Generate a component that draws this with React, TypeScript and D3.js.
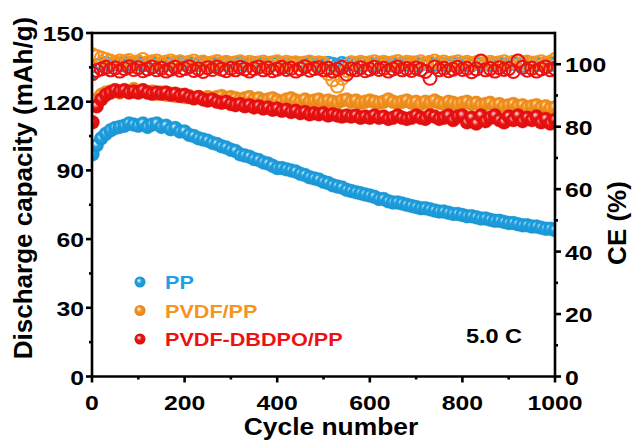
import React from "react";
import * as d3 from "d3";

// discharge capacity (mAh/g), one value every 10 cycles (first point = cycle 1)
const ppCap = [97, 101, 104, 106, 107.5, 108.5, 109, 109.5, 110.5, 110,
  109.5, 110.5, 109, 110, 110.5, 109, 109.5, 108, 108.5, 107,
  107, 105.5, 105, 104, 103.5, 103, 102, 101.5, 100.5, 100,
  99, 98.5, 97, 96.5, 96, 95, 94.5, 93.5, 93, 92,
  91, 91, 90.5, 90, 89.5, 88.5, 88, 87, 86.5, 86,
  85, 84.5, 83.5, 83, 82.5, 81.5, 81, 80.5, 80, 79.5,
  79, 78.5, 77.5, 77.5, 76.5, 76, 76, 75.5, 75, 74.5,
  74, 73.5, 73.5, 73, 72.5, 72, 72, 71.5, 71, 71,
  70.5, 70, 70, 69.5, 69, 69, 68.5, 68, 68, 67.5,
  67, 67, 66.5, 66, 66, 65.5, 65.5, 65, 64.5, 64.5, 64];

const pvdfCap = [119, 121, 123, 124, 124.5, 125, 124, 125, 124.5, 125.5,
  124, 125, 124, 124.5, 123.5, 124, 123, 123.5, 122.5, 123,
  122, 122.5, 121.5, 122, 121.5, 122, 121.5, 122, 122.5, 121.5,
  122, 121.5, 121, 121.5, 122, 121, 121.5, 120.5, 121, 121.5,
  120.5, 120, 121, 121.5, 120.5, 120, 121, 120, 120.5, 121,
  120, 120.5, 120, 119.5, 120.5, 121, 120, 120.5, 119.5, 120,
  120.5, 120, 119.5, 120, 121, 120, 119.5, 120, 120.5, 119.5,
  120, 119, 120, 119.5, 120.5, 119.5, 119, 120, 119.5, 119,
  119.5, 120, 119, 119.5, 118.5, 119, 119.5, 118.5, 119, 118,
  118.5, 119, 118, 118.5, 117.5, 118, 118.5, 117.5, 118, 117, 117.5];

const dbdpoCap = [111, 118, 121, 123, 124, 125, 124.5, 125, 124, 124.5,
  124, 125, 124, 123.5, 124, 123.5, 124, 123, 123.5, 122.5,
  123, 122, 121.5, 122, 121, 120.5, 121, 120, 119.5, 120,
  119, 118.5, 119, 118, 118.5, 117.5, 118, 117, 117.5, 116.5,
  117, 116, 116.5, 115.5, 116, 115, 115.5, 114.5, 115, 114.5,
  115, 114, 114.5, 114, 113.5, 114, 113.5, 114, 113, 113.5,
  113, 114, 113, 113.5, 112.5, 113, 114, 113, 112.5, 113,
  114, 113, 112.5, 114, 113.5, 112.5, 113, 114, 112, 113.5,
  114, 111, 113, 110.5, 114, 111.5, 113, 114, 112, 111,
  113.5, 112, 114, 111.5, 113, 112, 113.5, 111, 112.5, 110.5, 112];

// coulombic efficiency (%)
const ppCE = [97.5, 99.5, 100, 100.3, 99.8, 100.2, 100, 99.7, 100.4, 100,
  100.2, 99.8, 100, 100.5, 100, 99.7, 100.2, 100, 99.9, 100.3,
  100, 100.2, 99.8, 100, 100.4, 100, 99.7, 100.1, 100, 100.3,
  99.8, 100, 100.2, 100, 99.6, 100.3, 100, 100.1, 99.8, 100,
  100.2, 100, 99.7, 100.3, 100, 100.1, 99.9, 100.2, 100, 99.8,
  100, 100.3, 100, 99.7, 100.2, 100, 100.4, 99.9, 100, 100.2,
  100, 99.8, 100.3, 100, 100.1, 99.7, 100, 100.2, 100, 100.4,
  99.8, 100, 100.2, 100, 99.9, 100.3, 100, 99.7, 100.1, 100,
  100.2, 100, 99.8, 100.3, 100, 100.1, 99.9, 100.2, 100, 99.8,
  100, 100.3, 100, 99.7, 100.2, 100, 100.1, 99.9, 100.2, 100, 100];

const pvdfCE = [103, 102.5, 102, 101.5, 101, 100.5, 101, 100.8, 101.2, 100.5,
  100.8, 101.5, 100.5, 100.8, 101, 100.3, 100.7, 101, 100.5, 100.8,
  100.3, 100.6, 101, 100.4, 100.7, 100.2, 100.5, 100.9, 100.3, 100.6,
  100.2, 100.5, 100.8, 100.3, 100.6, 100.1, 100.4, 100.7, 100.2, 100.5,
  100.8, 100.3, 100.6, 100.2, 100.5, 100.1, 100.4, 100.7, 100.3, 100.5,
  100.2, 97, 95, 93, 95.5, 98, 100.5, 100.3, 100.6, 100.2,
  100.5, 100.8, 100.3, 100.6, 100.2, 100.5, 100.9, 100.3, 100.6, 100.2,
  100.5, 100.8, 100.3, 100.6, 101, 100.4, 100.7, 100.2, 100.5, 100.8,
  100.3, 100.6, 100.2, 100.5, 100.9, 100.3, 100.6, 100.2, 100.5, 100.8,
  100.3, 100.6, 101, 100.4, 100.7, 100.2, 100.5, 100.8, 100.3, 100.6, 101.5];

const dbdpoCE = [97, 98, 98.5, 99, 98.2, 98.8, 97.8, 98.6, 99.2, 98.3,
  98.9, 97.9, 98.5, 99.1, 98.2, 98.7, 97.8, 98.4, 99, 98.1,
  98.6, 99.2, 98, 98.5, 97.7, 98.9, 98.3, 99.1, 98.4, 97.9,
  98.7, 98.2, 99, 98.5, 97.8, 98.6, 99.1, 98.2, 98.8, 97.9,
  98.4, 99, 98.3, 98.7, 97.8, 98.5, 99.2, 98.1, 98.6, 98.9,
  98.2, 98.7, 97.8, 98.4, 99, 96.8, 98.5, 98.2, 98.9, 97.9,
  98.4, 99, 98.3, 98.7, 97.8, 98.5, 99.1, 98.2, 98.6, 98,
  98.8, 98.3, 97.7, 95.5, 99.1, 98.2, 98.7, 97.9, 98.4, 99,
  98.3, 98.7, 97.6, 98.5, 101, 98.2, 98.6, 97.8, 98.9, 98.3,
  98.6, 97.7, 101, 99, 98.1, 98.7, 97.8, 98.5, 99.1, 98.2, 98.6];

const seriesNames = ["PP", "PVDF/PP", "PVDF-DBDPO/PP"];
const seriesColors = ["#1EA0E2", "#F7931E", "#EE1111"];
const capTicks = [0, 30, 60, 90, 120, 150];
const ceTicks = [0, 20, 40, 60, 80, 100];
const cycleTicks = [0, 200, 400, 600, 800, 1000];

const W = 635;
const H = 441;
const left = 92;
const right = 555;
const top = 33;
const bottom = 376.5;
const FONT = "'Liberation Sans', Arial, Helvetica, sans-serif";

const x = d3.scaleLinear().domain([0, 1000]).range([left, right]);
const yCap = d3.scaleLinear().domain([0, 150]).range([bottom, top]);
const yCE = d3.scaleLinear().domain([0, 110]).range([bottom, top]);

const cycleOf = (i: number) => (i === 0 ? 1 : i * 10);

function SText(props: { x: number; y: number; size: number; sx?: number; anchor?: string; fill?: string; children: React.ReactNode }) {
  const sx = props.sx ?? 1.18;
  return (
    <text
      transform={`translate(${props.x},${props.y}) scale(${sx},1)`}
      textAnchor={props.anchor ?? "middle"}
      fontSize={props.size}
      fontWeight="bold"
      fontFamily={FONT}
      fill={props.fill ?? "#000"}
    >
      {props.children}
    </text>
  );
}

export default function App() {
  const caps = [ppCap, pvdfCap, dbdpoCap];
  const ces = [ppCE, pvdfCE, dbdpoCE];

  const minorCap = d3.range(15, 150, 30);
  const minorCE = d3.range(10, 110, 20);
  const minorCycle = d3.range(100, 1000, 200);

  return (
    <svg width={W} height={H} style={{ position: "absolute", left: 0, top: 0, background: "#fff" }}>
      <defs>
        {seriesColors.map((c, i) => (
          <radialGradient key={i} id={"ball" + i} cx="50%" cy="50%" r="55%" fx="38%" fy="35%">
            <stop offset="0%" stopColor="#fff" stopOpacity={0.85} />
            <stop offset="40%" stopColor={c} />
            <stop offset="100%" stopColor={d3.color(c)!.darker(0.3).toString()} />
          </radialGradient>
        ))}
        <clipPath id="plot">
          <rect x={left} y={top} width={right - left} height={bottom - top} />
        </clipPath>
      </defs>

      <g clipPath="url(#plot)">
        {caps.map((vals, s) => (
          <g key={"s" + s}>
            {vals.map((v, i) => (
              <circle key={"c" + i} cx={x(cycleOf(i))} cy={yCap(v)} r={7} fill={`url(#ball${s})`}
                stroke={seriesColors[s]} strokeOpacity={0.5} strokeWidth={0.6} />
            ))}
            {ces[s].map((v, i) => (
              <circle key={"e" + i} cx={x(cycleOf(i))} cy={yCE(v)} r={6.5} fill="none"
                stroke={seriesColors[s]} strokeWidth={2} />
            ))}
          </g>
        ))}
      </g>

      {/* frame */}
      <g stroke="#000" strokeWidth={2.6} fill="none">
        <line x1={left} x2={right} y1={top} y2={top} />
        <line x1={left} x2={left} y1={top - 1.3} y2={bottom + 1.3} />
        <line x1={right} x2={right} y1={top - 1.3} y2={bottom + 1.3} />
        <line x1={left - 1.3} x2={right + 1.3} y1={bottom} y2={bottom} />
        {capTicks.map((t) => <line key={"lt" + t} x1={left - 6} x2={left} y1={yCap(t)} y2={yCap(t)} />)}
        {minorCap.map((t) => <line key={"lm" + t} x1={left - 3} x2={left} y1={yCap(t)} y2={yCap(t)} />)}
        {ceTicks.map((t) => <line key={"rt" + t} x1={right} x2={right + 6} y1={yCE(t)} y2={yCE(t)} />)}
        {minorCE.map((t) => <line key={"rm" + t} x1={right} x2={right + 3} y1={yCE(t)} y2={yCE(t)} />)}
        {cycleTicks.map((t) => <line key={"bt" + t} x1={x(t)} x2={x(t)} y1={bottom} y2={bottom + 6} />)}
        {minorCycle.map((t) => <line key={"bm" + t} x1={x(t)} x2={x(t)} y1={bottom} y2={bottom + 3} />)}
      </g>

      {capTicks.map((t) => (
        <SText key={"ll" + t} x={84} y={yCap(t) + 8} size={21} anchor="end">{t}</SText>
      ))}
      {ceTicks.map((t) => (
        <SText key={"rl" + t} x={565} y={yCE(t) + 8} size={21} anchor="start">{t}</SText>
      ))}
      {cycleTicks.map((t) => (
        <SText key={"bl" + t} x={x(t)} y={410} size={21}>{t}</SText>
      ))}

      <SText x={331} y={435} size={24} sx={1.1}>Cycle number</SText>
      <text transform="translate(32,188) rotate(-90)" textAnchor="middle" fontSize={26}
        fontWeight="bold" fontFamily={FONT}>Discharge capacity (mAh/g)</text>
      <text transform="translate(626,223) rotate(-90)" textAnchor="middle" fontSize={26}
        fontWeight="bold" fontFamily={FONT}>CE (%)</text>

      {/* legend */}
      {seriesNames.map((n, i) => (
        <g key={"lg" + i}>
          <circle cx={140} cy={282 + i * 28.5} r={5.5} fill={`url(#ball${i})`} />
          <SText x={165} y={289 + i * 28.5} size={18} anchor="start" sx={1.2} fill={seriesColors[i]}>{n}</SText>
        </g>
      ))}
      <SText x={494} y={343} size={21} sx={1.12}>5.0 C</SText>
    </svg>
  );
}
